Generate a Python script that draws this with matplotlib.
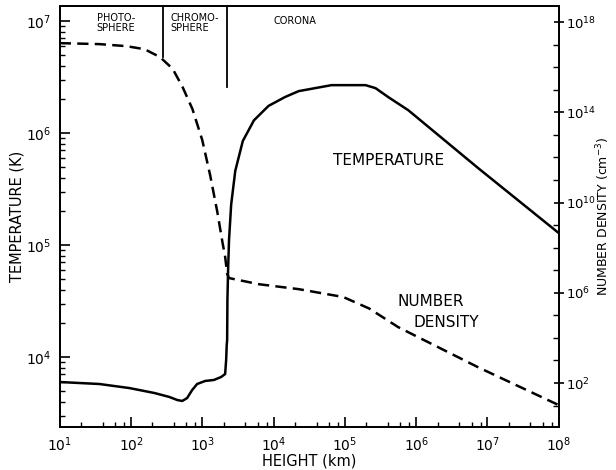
import numpy as np
import matplotlib
matplotlib.use("Agg")
import matplotlib.pyplot as plt
from matplotlib.ticker import LogLocator, FixedLocator, NullFormatter, FuncFormatter

plt.rcParams['font.family'] = ['DejaVu Sans']
plt.rcParams['mathtext.fontset'] = 'dejavusans'
plt.rcParams['mathtext.default'] = 'regular'

# temperature profile (height km, T in K)
temp_height = [10, 36, 95, 213, 344, 445, 523, 612, 720, 845, 1095, 1460, 1835,
               2090, 2160, 2200, 2230, 2250, 2300, 2370, 2540, 2900, 3700, 5300,
               8500, 1.45e4, 2.25e4, 6.5e4, 1.95e5, 2.69e5, 4.09e5, 7.76e5,
               7.4e6, 1e8]
temp_vals = [5980, 5740, 5280, 4770, 4400, 4130, 4050, 4300, 5070, 5740, 6110,
             6240, 6630, 7050, 9400, 12800, 14200, 32300, 59800, 1.11e5,
             2.3e5, 4.6e5, 8.5e5, 1.3e6, 1.75e6, 2.1e6, 2.37e6, 2.68e6,
             2.68e6, 2.52e6, 2.09e6, 1.60e6, 4.87e5, 1.28e5]

# number density profile (height km, n in cm^-3)
dens_height = [10, 36, 86, 155, 256, 384, 530, 727, 997, 1290, 1620, 1925, 2090,
               2230, 2370, 6220, 2.25e4, 9.5e4, 2.2e5, 5.6e5, 7.4e6, 1e8]
dens_vals = [1.17e17, 1.06e17, 8.6e16, 6.3e16, 2.8e16, 8.5e15, 1.3e15, 1.4e14,
             6e12, 1.6e11, 4e9, 1.6e8, 4e7, 7e6, 4.5e6, 2.4e6, 1.45e6,
             6.5e5, 2e5, 3.0e4, 5e2, 10.5]
dens_ticks = [1e2, 1e6, 1e10, 1e14, 1e18]

# region boundaries (height km) and where they stop (temperature axis)
bound_height = [280, 2230]
bound_bottom = [4.8e6, 2.6e6]

fig = plt.figure(figsize=(6.16, 4.70), dpi=100)
ax = fig.add_axes([0.097, 0.0915, 0.81, 0.8955])
ax2 = ax.twinx()

ax.plot(temp_height, temp_vals, color='black', lw=1.8)
ax2.plot(dens_height, dens_vals, color='black', lw=1.8, ls=(0, (4.5, 2.5)))

ax.set_xscale('log')
ax.set_yscale('log')
ax2.set_yscale('log')
ax.set_xlim(10, 1e8)
ax.set_ylim(10 ** 3.375, 10 ** 7.134)
ax2.set_ylim(10 ** 0.05, 10 ** 18.71)

for xb, yb in zip(bound_height, bound_bottom):
    ax.plot([xb, xb], [yb, 10 ** 7.134], color='black', lw=1.3)

def pow10(v, pos):
    return r'$10^{%d}$' % int(round(np.log10(v)))

ax.xaxis.set_major_locator(LogLocator(base=10, numticks=20))
ax.xaxis.set_minor_locator(LogLocator(base=10, subs=(2, 4, 6, 8), numticks=20))
ax.xaxis.set_major_formatter(FuncFormatter(pow10))
ax.xaxis.set_minor_formatter(NullFormatter())

ax.yaxis.set_major_locator(LogLocator(base=10, numticks=20))
ax.yaxis.set_minor_locator(LogLocator(base=10, subs=np.arange(2, 10), numticks=20))
ax.yaxis.set_major_formatter(FuncFormatter(pow10))
ax.yaxis.set_minor_formatter(NullFormatter())

ax2.yaxis.set_major_locator(FixedLocator(dens_ticks))
ax2.yaxis.set_minor_locator(LogLocator(base=10, subs=(1.0,), numticks=30))
ax2.yaxis.set_major_formatter(FuncFormatter(pow10))
ax2.yaxis.set_minor_formatter(NullFormatter())

ax.tick_params(axis='both', which='major', direction='in', length=7, width=1.2,
               labelsize=10, pad=6)
ax.tick_params(axis='both', which='minor', direction='in', length=3.5, width=1.0)
ax2.tick_params(axis='y', which='major', direction='inout', length=7, width=1.2,
                labelsize=9.5, pad=1.5)
ax2.tick_params(axis='y', which='minor', direction='in', length=4, width=1.0)

for a in (ax, ax2):
    for s in a.spines.values():
        s.set_linewidth(1.3)

ax.set_xlabel('HEIGHT (km)', fontsize=10.5, labelpad=0)
ax.set_ylabel('TEMPERATURE (K)', fontsize=10.5, labelpad=1)
ax2.set_ylabel(r'NUMBER DENSITY (cm$^{-3}$)', fontsize=9)
ax2.yaxis.set_label_coords(1.072, 0.5)

ax.text(61, 9.6e6, 'PHOTO-\nSPHERE', fontsize=7, ha='center', va='center',
        linespacing=0.95)
ax.text(360, 9.6e6, 'CHROMO-\nSPHERE', fontsize=7, ha='left', va='center',
        linespacing=0.95)
ax.text(2.0e4, 1.0e7, 'CORONA', fontsize=7, ha='center', va='center')
ax.text(4.1e5, 5.7e5, 'TEMPERATURE', fontsize=11, ha='center', va='center')
ax.text(1.58e6, 3.1e4, 'NUMBER', fontsize=11, ha='center', va='center')
ax.text(2.63e6, 2.05e4, 'DENSITY', fontsize=11, ha='center', va='center')

fig.savefig('out.png', dpi=100)
